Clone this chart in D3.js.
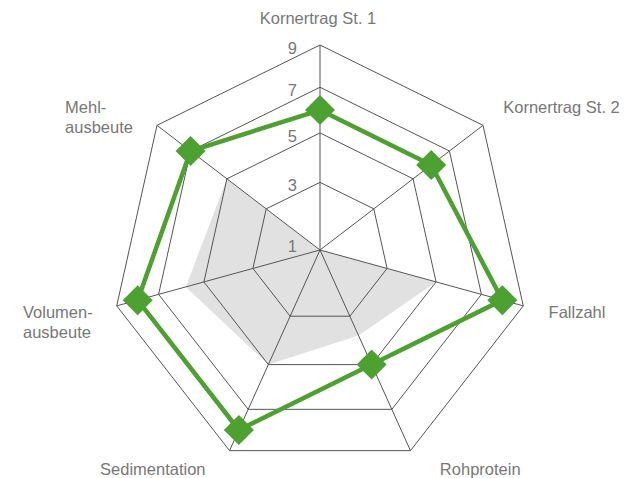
<!DOCTYPE html>
<html>
<head>
<meta charset="utf-8">
<script src="https://cdn.jsdelivr.net/npm/d3@7"></script>
<style>
  html, body { margin: 0; padding: 0; background: #fff; }
  svg { display: block; }
  text { font-family: "Liberation Sans", Arial, sans-serif; font-size: 16.5px; fill: #777; }
</style>
</head>
<body>
<svg width="633" height="478"></svg>
<script>
var WIDTH = 633;
var HEIGHT = 478;

// axes, clockwise from the top
var categories = ['Kornertrag St. 1', 'Kornertrag St. 2', 'Fallzahl', 'Rohprotein',
  'Sedimentation', 'Volumen-\nausbeute', 'Mehl-\nausbeute'];
var gridTicks = [1, 3, 5, 7, 9];
var tickLabels = ['1', '3', '5', '7', '9'];
var varietyValues = [6, 6, 8, 5, 8, 8, 7];
var rangeValues = [1, 1, 5, 3.8, 5, 5.8, 5];

// hub of the spokes and the (slightly tilted) outer heptagon
var HUB_X = 320, HUB_Y = 250;
var OUTER_CY = 258.4, OUTER_RX = 208.5, OUTER_RY = 213.4;
var GREEN = '#4ca130';

var svg = d3.select('svg');
var n = categories.length;

var angle = d3.scaleLinear().domain([0, n]).range([0, 2 * Math.PI]);
// radial position as fraction of the spoke length
var radius = d3.scaleLinear()
  .domain(gridTicks)
  .range([0, 0.33, 0.571, 0.794, 1]);

function point (i, v) {
  var a = angle(i);
  var ex = HUB_X + OUTER_RX * Math.sin(a);
  var ey = OUTER_CY - OUTER_RY * Math.cos(a);
  var f = radius(v);
  return [HUB_X + f * (ex - HUB_X), HUB_Y + f * (ey - HUB_Y)];
}

var polygon = d3.line().curve(d3.curveLinearClosed);

// grey range area
svg.append('path')
  .attr('d', polygon(rangeValues.map(function (v, i) { return point(i, v); })))
  .style('fill', '#e1e1e1')
  .style('stroke', 'none');

// rings
svg.selectAll('.ring')
  .data(gridTicks.filter(function (t) { return radius(t) > 0; }))
  .enter().append('path')
  .attr('class', 'ring')
  .attr('d', function (t) {
    return polygon(categories.map(function (c, i) { return point(i, t); }));
  })
  .style('fill', 'none')
  .style('stroke', '#555')
  .style('stroke-width', 1);

// spokes
svg.selectAll('.spoke')
  .data(categories)
  .enter().append('line')
  .attr('class', 'spoke')
  .attr('x1', HUB_X)
  .attr('y1', HUB_Y)
  .attr('x2', function (c, i) { return point(i, 9)[0]; })
  .attr('y2', function (c, i) { return point(i, 9)[1]; })
  .style('stroke', '#555')
  .style('stroke-width', 1);

// tick labels along the top spoke
svg.selectAll('.tick')
  .data(gridTicks)
  .enter().append('text')
  .attr('class', 'tick')
  .attr('x', HUB_X - 23)
  .attr('y', function (t) { return point(0, t)[1]; })
  .attr('dy', function (t) { return radius(t) === 0 ? -4 : 3; })
  .attr('dominant-baseline', 'central')
  .attr('text-anchor', 'end')
  .text(function (t, i) { return tickLabels[i]; });

// category labels
categories.forEach(function (label, i) {
  var a = angle(i);
  var s = Math.sin(a), c = Math.cos(a);
  var end = point(i, 9);
  var lines = label.split('\n');
  var y0 = end[1] - 3 - 24 * c + (c < 0 && c > -0.5 ? 4 : 0);
  var text = svg.append('text')
    .attr('class', 'label')
    .attr('dominant-baseline', 'central');
  lines.forEach(function (line, k) {
    text.append('tspan')
      .attr('y', y0 + k * 20)
      .text(line);
  });
  var tspans = text.selectAll('tspan');
  if (Math.abs(s) < 0.01) {
    text.attr('text-anchor', 'middle');
    tspans.attr('x', end[0] - 2);
  } else if (s > 0) {
    text.attr('text-anchor', 'start');
    tspans.attr('x', end[0] + 24 - 6 * c);
  } else {
    var w = d3.max(tspans.nodes(), function (node) { return node.getComputedTextLength(); });
    text.attr('text-anchor', 'start');
    tspans.attr('x', end[0] - 24 - w);
  }
});

// variety line
var pts = varietyValues.map(function (v, i) { return point(i, v); });
svg.append('path')
  .attr('d', polygon(pts))
  .style('fill', 'none')
  .style('stroke', GREEN)
  .style('stroke-width', 4.5)
  .style('stroke-linejoin', 'round');

svg.selectAll('.marker')
  .data(pts)
  .enter().append('path')
  .attr('class', 'marker')
  .attr('d', d3.symbol(d3.symbolSquare, 450))
  .attr('transform', function (p) { return 'translate(' + p[0] + ',' + p[1] + ') rotate(45)'; })
  .style('fill', GREEN);
</script>
</body>
</html>
